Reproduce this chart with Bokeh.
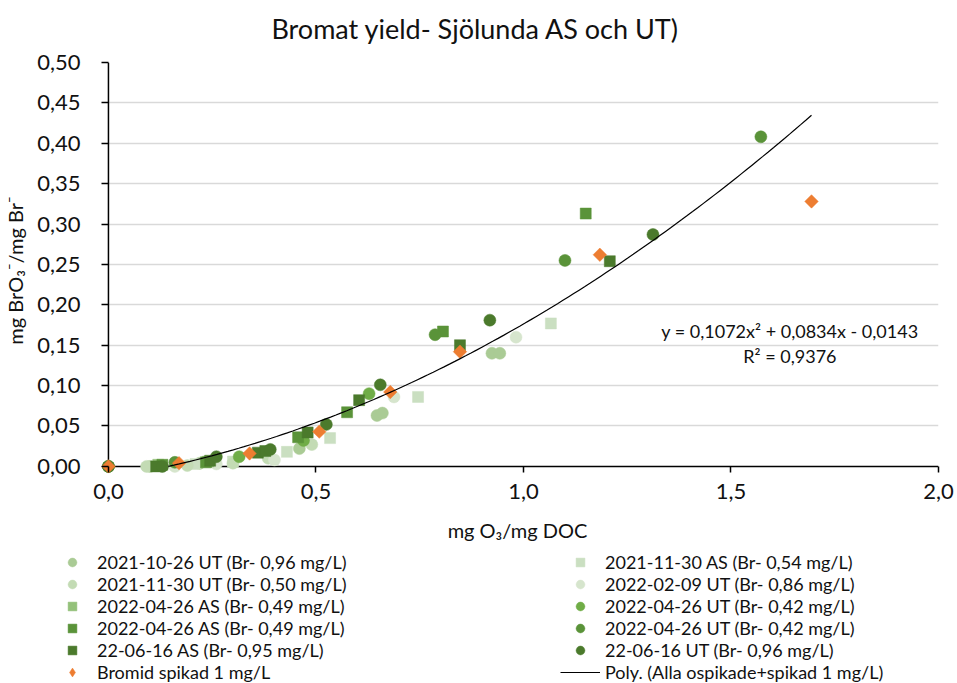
from bokeh.plotting import figure
from bokeh.layouts import column
from bokeh.models import (Range1d, FixedTicker, CustomJSTickFormatter, Legend,
                          LegendItem, Label)
from bokeh.embed import file_html
from bokeh.resources import INLINE
import numpy as np

FONT = "Lato"
TEXT = "#111111"
PAGE_W = 957

# --- measured series: ozone dose (mg O3/mg DOC) vs bromate yield (mg BrO3-/mg Br-) ---
ut_2021_10_26_x = [0.10, 0.22, 0.46, 0.647, 0.66, 0.924, 0.943]
ut_2021_10_26_y = [0.000, 0.004, 0.022, 0.063, 0.066, 0.140, 0.140]

as_2021_11_30_x = [0.21, 0.30, 0.43, 0.534, 0.746, 1.066]
as_2021_11_30_y = [0.003, 0.006, 0.018, 0.035, 0.086, 0.177]

ut_2021_11_30_x = [0.092, 0.19, 0.30, 0.385, 0.49]
ut_2021_11_30_y = [0.000, 0.001, 0.004, 0.010, 0.027]

ut_2022_02_09_x = [0.16, 0.26, 0.40, 0.688, 0.982]
ut_2022_02_09_y = [0.000, 0.003, 0.008, 0.086, 0.160]

as_2022_04_26a_x = [0.12, 0.24]
as_2022_04_26a_y = [0.002, 0.006]

ut_2022_04_26a_x = [0.0, 0.315, 0.47, 0.628]
ut_2022_04_26a_y = [0.000, 0.012, 0.032, 0.090]

as_2022_04_26b_x = [0.13, 0.235, 0.457, 0.575, 0.806, 1.15]
as_2022_04_26b_y = [0.002, 0.005, 0.036, 0.067, 0.167, 0.313]

ut_2022_04_26b_x = [0.0, 0.16, 0.787, 1.10, 1.572]
ut_2022_04_26b_y = [0.000, 0.005, 0.163, 0.255, 0.408]

as_2022_06_16_x = [0.115, 0.245, 0.36, 0.378, 0.48, 0.604, 0.847, 1.208]
as_2022_06_16_y = [0.000, 0.007, 0.017, 0.019, 0.042, 0.082, 0.150, 0.254]

ut_2022_06_16_x = [0.0, 0.13, 0.26, 0.39, 0.525, 0.655, 0.919, 1.312]
ut_2022_06_16_y = [0.000, 0.000, 0.012, 0.021, 0.052, 0.101, 0.181, 0.287]

spiked_x = [0.0, 0.17, 0.34, 0.508, 0.679, 0.847, 1.184, 1.694]
spiked_y = [0.000, 0.004, 0.016, 0.043, 0.092, 0.142, 0.262, 0.328]

# second-order polynomial fit (all unspiked + spiked 1 mg/L)
poly_coef = [0.1072, 0.0834, -0.0143]
poly_r2 = 0.9376
poly_x_max = 1.694
poly_label = "Poly. (Alla ospikade+spikad 1 mg/L)"

title_text = "Bromat yield- Sjölunda AS och UT)"

y_ticks = [0.0, 0.05, 0.10, 0.15, 0.20, 0.25, 0.30, 0.35, 0.40, 0.45, 0.50]
x_ticks = [0.0, 0.5, 1.0, 1.5, 2.0]

# (legend label, x, y, marker, colour, size, angle, legend marker)
series = [
    ("2021-10-26 UT (Br- 0,96 mg/L)", ut_2021_10_26_x, ut_2021_10_26_y, "circle", "#AACB95", 12, 0, "circle"),
    ("2021-11-30 AS (Br- 0,54 mg/L)", as_2021_11_30_x, as_2021_11_30_y, "square", "#CADFC1", 11, 0, "square"),
    ("2021-11-30 UT (Br- 0,50 mg/L)", ut_2021_11_30_x, ut_2021_11_30_y, "circle", "#C3DBB4", 12, 0, "circle"),
    ("2022-02-09 UT (Br- 0,86 mg/L)", ut_2022_02_09_x, ut_2022_02_09_y, "circle", "#D6E5CD", 12, 0, "circle"),
    ("2022-04-26 AS (Br- 0,49 mg/L)", as_2022_04_26a_x, as_2022_04_26a_y, "square", "#94C17A", 11, 0, "square"),
    ("2022-04-26 UT (Br- 0,42 mg/L)", ut_2022_04_26a_x, ut_2022_04_26a_y, "circle", "#70AD47", 12, 0, "circle"),
    ("2022-04-26 AS (Br- 0,49 mg/L)", as_2022_04_26b_x, as_2022_04_26b_y, "square", "#5A9339", 11, 0, "square"),
    ("2022-04-26 UT (Br- 0,42 mg/L)", ut_2022_04_26b_x, ut_2022_04_26b_y, "circle", "#5A9339", 12, 0, "circle"),
    ("22-06-16 AS (Br- 0,95 mg/L)", as_2022_06_16_x, as_2022_06_16_y, "square", "#4B7A2C", 11, 0, "square"),
    ("22-06-16 UT (Br- 0,96 mg/L)", ut_2022_06_16_x, ut_2022_06_16_y, "circle", "#4B7A2C", 12, 0, "circle"),
    ("Bromid spikad 1 mg/L", spiked_x, spiked_y, "square", "#ED7D31", 9.5, np.pi / 4, "diamond"),
]


def strip(height):
    """A bare full-width figure used for the title and legend rows."""
    f = figure(width=PAGE_W, height=height, output_backend="svg", toolbar_location=None,
               x_range=Range1d(0, PAGE_W), y_range=Range1d(0, height), min_border=0,
               x_axis_location=None, y_axis_location=None,
               outline_line_color=None, background_fill_color="white",
               border_fill_color="white")
    f.grid.visible = False
    return f


# --- title row ---
tf = strip(44)
tf.add_layout(Label(x=475, y=16, text=title_text, text_align="center",
                    text_baseline="middle", text_font=FONT, text_font_size="27px",
                    text_color=TEXT))

# --- chart ---
# the ranges reach a little below/left of zero so that markers sitting on the
# zero lines are not cut by the frame; the visible axis lines are drawn at zero
p = figure(width=PAGE_W, height=507, output_backend="svg", toolbar_location=None,
           x_range=Range1d(-0.0288, 2.0), y_range=Range1d(-0.015, 0.5),
           min_border_left=93, min_border_right=19, min_border_top=18,
           min_border_bottom=73, background_fill_color="white",
           border_fill_color="white", outline_line_color=None)

for ax in (p.xaxis[0], p.yaxis[0]):
    ax.axis_line_color = None
    ax.major_tick_line_color = "black"
    ax.major_tick_line_width = 1.5
    ax.minor_tick_line_color = None
    ax.major_label_text_font = FONT
    ax.major_label_text_font_size = "22px"
    ax.major_label_text_color = TEXT
    ax.axis_label_text_font = FONT
    ax.axis_label_text_font_size = "20px"
    ax.axis_label_text_font_style = "normal"
    ax.axis_label_text_color = TEXT

# ticks reach from the zero line outwards
p.yaxis[0].ticker = FixedTicker(ticks=y_ticks)
p.yaxis[0].formatter = CustomJSTickFormatter(code="return tick.toFixed(2).replace('.', ',');")
p.yaxis[0].major_tick_in = 12
p.yaxis[0].major_tick_out = -5
p.yaxis[0].major_label_standoff = 16
p.yaxis[0].axis_label = "mg BrO₃⁻/mg Br⁻"
p.yaxis[0].axis_label_standoff = 7

p.xaxis[0].ticker = FixedTicker(ticks=x_ticks)
p.xaxis[0].formatter = CustomJSTickFormatter(code="return tick.toFixed(1).replace('.', ',');")
p.xaxis[0].major_tick_in = 12
p.xaxis[0].major_tick_out = -6
p.xaxis[0].major_label_standoff = 5
p.xaxis[0].axis_label = "mg O₃/mg DOC"
p.xaxis[0].axis_label_standoff = 16

p.xgrid.grid_line_color = None
p.ygrid.ticker = FixedTicker(ticks=y_ticks[1:])
p.ygrid.grid_line_color = "#D9D9D9"
p.ygrid.grid_line_width = 1.3
if "cross_bounds" in p.ygrid.properties():
    p.ygrid.cross_bounds = (x_ticks[0], x_ticks[-1])

# axis lines along the zero lines
p.segment(x0=[x_ticks[0]], y0=[y_ticks[0]], x1=[x_ticks[-1]], y1=[y_ticks[0]],
          line_color="black", line_width=1.5)
p.segment(x0=[x_ticks[0]], y0=[y_ticks[0]], x1=[x_ticks[0]], y1=[y_ticks[-1]],
          line_color="black", line_width=1.5)

for label, xs, ys, marker, color, size, angle, _ in series:
    p.scatter(xs, ys, marker=marker, size=size, angle=angle,
              fill_color=color, line_color=color, line_width=0.5)

# trend line from its zero crossing to the largest dose
a, b, c = poly_coef
x0 = (-b + np.sqrt(b * b - 4 * a * c)) / (2 * a)
fx = np.linspace(x0, poly_x_max, 120)
fy = a * fx ** 2 + b * fx + c
p.line(fx, fy, line_color="black", line_width=1.2)

eq_text = "y = {}x² + {}x - {}".format(
    f"{a:.4f}".replace(".", ","), f"{b:.4f}".replace(".", ","), f"{-c:.4f}".replace(".", ","))
p.add_layout(Label(x=1.642, y=0.168, text=eq_text, text_align="center",
                   text_baseline="middle", text_font=FONT, text_font_size="18px",
                   text_color=TEXT))
p.add_layout(Label(x=1.642, y=0.137, text="R² = " + f"{poly_r2:.4f}".replace(".", ","),
                   text_align="center", text_baseline="middle", text_font=FONT,
                   text_font_size="18px", text_color=TEXT))

# --- legend row: two columns of keys; the key renderers carry the same
# series, shifted out of the strip's view so only the keys show ---
lf = strip(132)
keys = []
for label, xs, ys, marker, color, size, angle, key_marker in series:
    k = lf.scatter([v - 10 for v in xs], ys, marker=key_marker, size=size,
                   fill_color=color, line_color=color, line_width=0.5)
    keys.append(LegendItem(label=label, renderers=[k]))
trend_key = lf.line(fx - 10, fy, line_color="black", line_width=1.2)
keys.append(LegendItem(label=poly_label, renderers=[trend_key]))

left_keys = [keys[i] for i in (0, 2, 4, 6, 8, 10)]
right_keys = [keys[i] for i in (1, 3, 5, 7, 9, 11)]


def make_legend(items, loc):
    return Legend(items=items, location=loc, orientation="vertical",
                  glyph_width=40, glyph_height=22, label_height=22,
                  label_standoff=5, spacing=0, padding=0, margin=0,
                  border_line_alpha=0, background_fill_alpha=0,
                  label_text_font=FONT, label_text_font_size="18px",
                  label_text_color=TEXT, label_text_baseline="middle")


lf.add_layout(make_legend(left_keys, (52, 0)))
lf.add_layout(make_legend(right_keys, (560, 0)))

# each row keeps its own frame instead of lining up with the others
for fig in (tf, p, lf):
    if "frame_align" in fig.properties():
        fig.frame_align = False

page = column(tf, p, lf, spacing=0)
open("out.html", "w").write(file_html(page, INLINE))
